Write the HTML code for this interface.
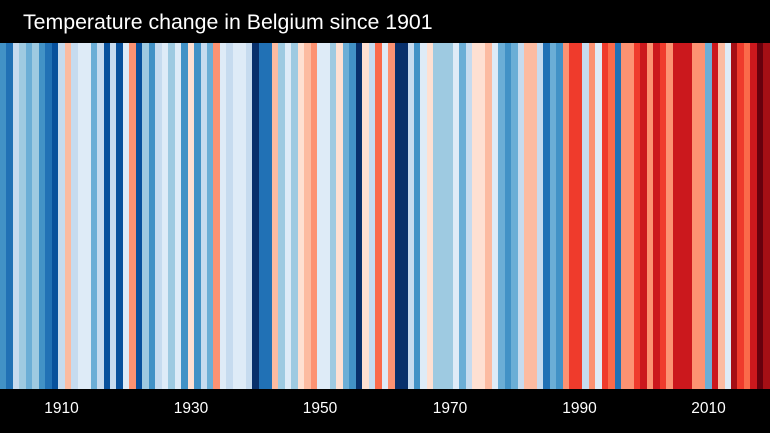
<!DOCTYPE html>
<html><head><meta charset="utf-8"><style>
html,body{margin:0;padding:0;background:#000;width:770px;height:433px;overflow:hidden;position:relative;}
#st{position:absolute;left:0;top:43px;width:770px;height:346px;display:flex;}
#st i{flex:1 1 0;display:block;height:100%;}
.t{position:absolute;left:23px;top:8px;color:#fff;font-family:"Liberation Sans",sans-serif;font-size:21.3px;line-height:28px;white-space:nowrap;}
.l{position:absolute;top:400px;width:60px;margin-left:-30px;text-align:center;color:#fff;font-family:"Liberation Sans",sans-serif;font-size:15.5px;line-height:18px;}
</style></head><body>
<div class="t">Temperature change in Belgium since 1901</div>
<div id="st">
<i style="background:#4292c6"></i><i style="background:#2171b5"></i><i style="background:#c6dbef"></i><i style="background:#9ecae1"></i><i style="background:#6baed6"></i><i style="background:#9ecae1"></i><i style="background:#4292c6"></i><i style="background:#2171b5"></i><i style="background:#08519c"></i><i style="background:#c6dbef"></i>
<i style="background:#fcbba1"></i><i style="background:#c6dbef"></i><i style="background:#deebf7"></i><i style="background:#deebf7"></i><i style="background:#6baed6"></i><i style="background:#c6dbef"></i><i style="background:#08519c"></i><i style="background:#c6dbef"></i><i style="background:#08519c"></i><i style="background:#deebf7"></i>
<i style="background:#fc9272"></i><i style="background:#08519c"></i><i style="background:#9ecae1"></i><i style="background:#4292c6"></i><i style="background:#c6dbef"></i><i style="background:#deebf7"></i><i style="background:#9ecae1"></i><i style="background:#deebf7"></i><i style="background:#4292c6"></i><i style="background:#fee0d2"></i>
<i style="background:#4292c6"></i><i style="background:#c6dbef"></i><i style="background:#6baed6"></i><i style="background:#fc9272"></i><i style="background:#deebf7"></i><i style="background:#c6dbef"></i><i style="background:#deebf7"></i><i style="background:#deebf7"></i><i style="background:#c6dbef"></i><i style="background:#08306b"></i>
<i style="background:#2171b5"></i><i style="background:#2171b5"></i><i style="background:#fcbba1"></i><i style="background:#9ecae1"></i><i style="background:#deebf7"></i><i style="background:#9ecae1"></i><i style="background:#fee0d2"></i><i style="background:#fcbba1"></i><i style="background:#fc9272"></i><i style="background:#deebf7"></i>
<i style="background:#deebf7"></i><i style="background:#9ecae1"></i><i style="background:#fee0d2"></i><i style="background:#6baed6"></i><i style="background:#4292c6"></i><i style="background:#08306b"></i><i style="background:#fee0d2"></i><i style="background:#c6dbef"></i><i style="background:#fb6a4a"></i><i style="background:#deebf7"></i>
<i style="background:#fc9272"></i><i style="background:#08306b"></i><i style="background:#08306b"></i><i style="background:#c6dbef"></i><i style="background:#4292c6"></i><i style="background:#deebf7"></i><i style="background:#fee0d2"></i><i style="background:#9ecae1"></i><i style="background:#9ecae1"></i><i style="background:#9ecae1"></i>
<i style="background:#deebf7"></i><i style="background:#6baed6"></i><i style="background:#c6dbef"></i><i style="background:#fee0d2"></i><i style="background:#fee0d2"></i><i style="background:#fcbba1"></i><i style="background:#deebf7"></i><i style="background:#6baed6"></i><i style="background:#4292c6"></i><i style="background:#6baed6"></i>
<i style="background:#c6dbef"></i><i style="background:#fcbba1"></i><i style="background:#fcbba1"></i><i style="background:#c6dbef"></i><i style="background:#2171b5"></i><i style="background:#6baed6"></i><i style="background:#4292c6"></i><i style="background:#fc9272"></i><i style="background:#ef3b2c"></i><i style="background:#ef3b2c"></i>
<i style="background:#c6dbef"></i><i style="background:#fc9272"></i><i style="background:#deebf7"></i><i style="background:#ef3b2c"></i><i style="background:#fb6a4a"></i><i style="background:#2171b5"></i><i style="background:#fc9272"></i><i style="background:#fc9272"></i><i style="background:#ef3b2c"></i><i style="background:#cb181d"></i>
<i style="background:#fc9272"></i><i style="background:#cb181d"></i><i style="background:#ef3b2c"></i><i style="background:#fc9272"></i><i style="background:#cb181d"></i><i style="background:#cb181d"></i><i style="background:#cb181d"></i><i style="background:#fc9272"></i><i style="background:#fc9272"></i><i style="background:#6baed6"></i>
<i style="background:#cb181d"></i><i style="background:#fcbba1"></i><i style="background:#deebf7"></i><i style="background:#a50f15"></i><i style="background:#ef3b2c"></i><i style="background:#fb6a4a"></i><i style="background:#cb181d"></i><i style="background:#67000d"></i><i style="background:#a50f15"></i>
</div>
<div class="l" style="left:61.5px">1910</div>
<div class="l" style="left:191px">1930</div>
<div class="l" style="left:320px">1950</div>
<div class="l" style="left:450px">1970</div>
<div class="l" style="left:579.5px">1990</div>
<div class="l" style="left:708.5px">2010</div>
</body></html>
